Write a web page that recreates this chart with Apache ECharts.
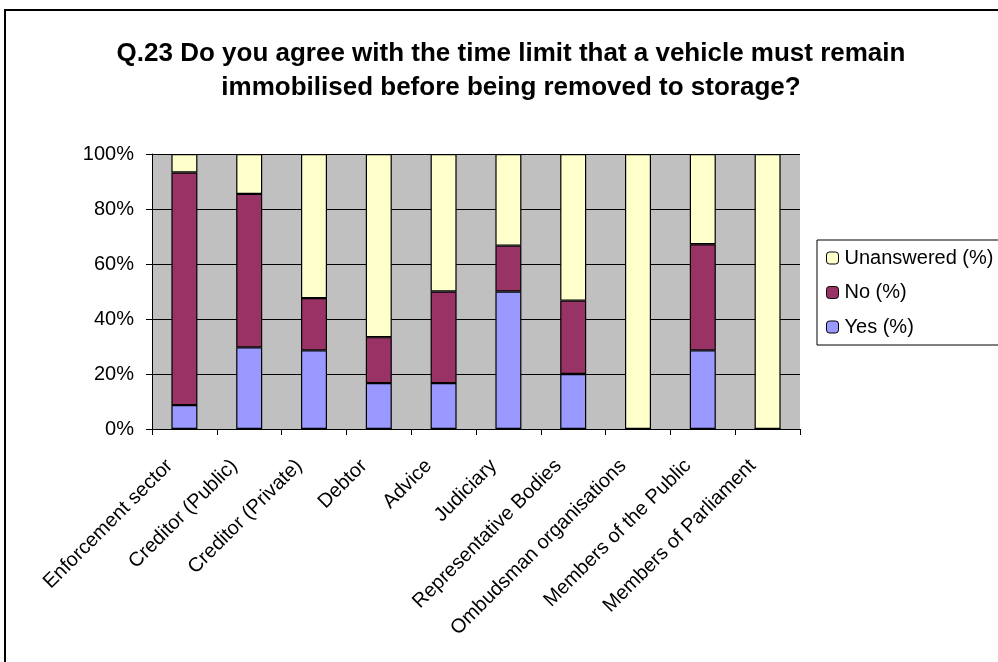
<!DOCTYPE html>
<html>
<head>
<meta charset="utf-8">
<script src="https://cdn.jsdelivr.net/npm/echarts@6/dist/echarts.min.js"></script>
<style>
  html, body { margin: 0; padding: 0; background: #fff; }
  #chart { width: 998px; height: 662px; }
</style>
</head>
<body>
<div id="chart"></div>
<script>
const categories = ['Enforcement sector', 'Creditor (Public)', 'Creditor (Private)', 'Debtor', 'Advice',
    'Judiciary', 'Representative Bodies', 'Ombudsman organisations', 'Members of the Public', 'Members of Parliament'];
const yesPct = [8.7, 29.7, 28.6, 16.7, 16.7, 50, 20, 0, 28.6, 0];
const noPct = [84.6, 55.8, 19.0, 16.7, 33.3, 16.7, 26.7, 0, 38.6, 0];
const unansweredPct = [6.7, 14.5, 52.4, 66.6, 50, 33.3, 53.3, 100, 32.8, 100];
const yTicks = [0, 20, 40, 60, 80, 100];

const font = 'Arial, "Liberation Sans", sans-serif';
var myChart = echarts.init(document.getElementById('chart'));

function barSeries(name, data, color) {
    return {
        name: name,
        type: 'bar',
        stack: 'total',
        barWidth: 26,
        data: data,
        itemStyle: {color: color, borderColor: '#000', borderWidth: 1.2}
    };
}

var option = {
    animation: false,
    title: {
        text: 'Q.23 Do you agree with the time limit that a vehicle must remain\nimmobilised before being removed to storage?',
        left: 511,
        top: 37,
        padding: 0,
        textAlign: 'center',
        textStyle: {fontFamily: font, fontSize: 26, fontWeight: 'bold', color: '#000', lineHeight: 34}
    },
    legend: {
        data: ['Unanswered (%)', 'No (%)', 'Yes (%)'],
        orient: 'vertical',
        left: 817,
        top: 240,
        padding: [8, 10, 8, 9],
        itemGap: 14.5,
        itemWidth: 12,
        itemHeight: 12,
        itemStyle: {borderColor: '#000', borderWidth: 1},
        borderColor: '#000',
        borderWidth: 1,
        textStyle: {fontFamily: font, fontSize: 20, color: '#000', padding: [0, 0, 0, 1]}
    },
    grid: {
        left: 152, right: 198, top: 154, bottom: 233,
        show: true, backgroundColor: '#c0c0c0', borderWidth: 0
    },
    xAxis: {
        type: 'category',
        data: categories,
        axisLine: {lineStyle: {color: '#000', width: 1}},
        axisTick: {show: true, length: 6, lineStyle: {color: '#000'}},
        axisLabel: {rotate: 45, interval: 0, margin: 19, padding: [0, 21, 0, 0],
            fontFamily: font, fontSize: 20, color: '#000'}
    },
    yAxis: {
        type: 'value',
        min: yTicks[0],
        max: yTicks[yTicks.length - 1],
        interval: 20,
        axisLine: {show: true, lineStyle: {color: '#000', width: 1}},
        axisTick: {show: true, length: 6, lineStyle: {color: '#000'}},
        axisLabel: {formatter: '{value}%', margin: 18, fontFamily: font, fontSize: 20, color: '#000'},
        splitLine: {show: true, lineStyle: {color: '#000', width: 1}}
    },
    graphic: [{
        type: 'rect',
        shape: {x: 5, y: 10, width: 1200, height: 1000},
        style: {fill: 'none', stroke: '#000', lineWidth: 2},
        silent: true
    }],
    series: [
        barSeries('Yes (%)', yesPct, '#9999ff'),
        barSeries('No (%)', noPct, '#993366'),
        barSeries('Unanswered (%)', unansweredPct, '#ffffcc')
    ]
};
myChart.setOption(option);
</script>
</body>
</html>
